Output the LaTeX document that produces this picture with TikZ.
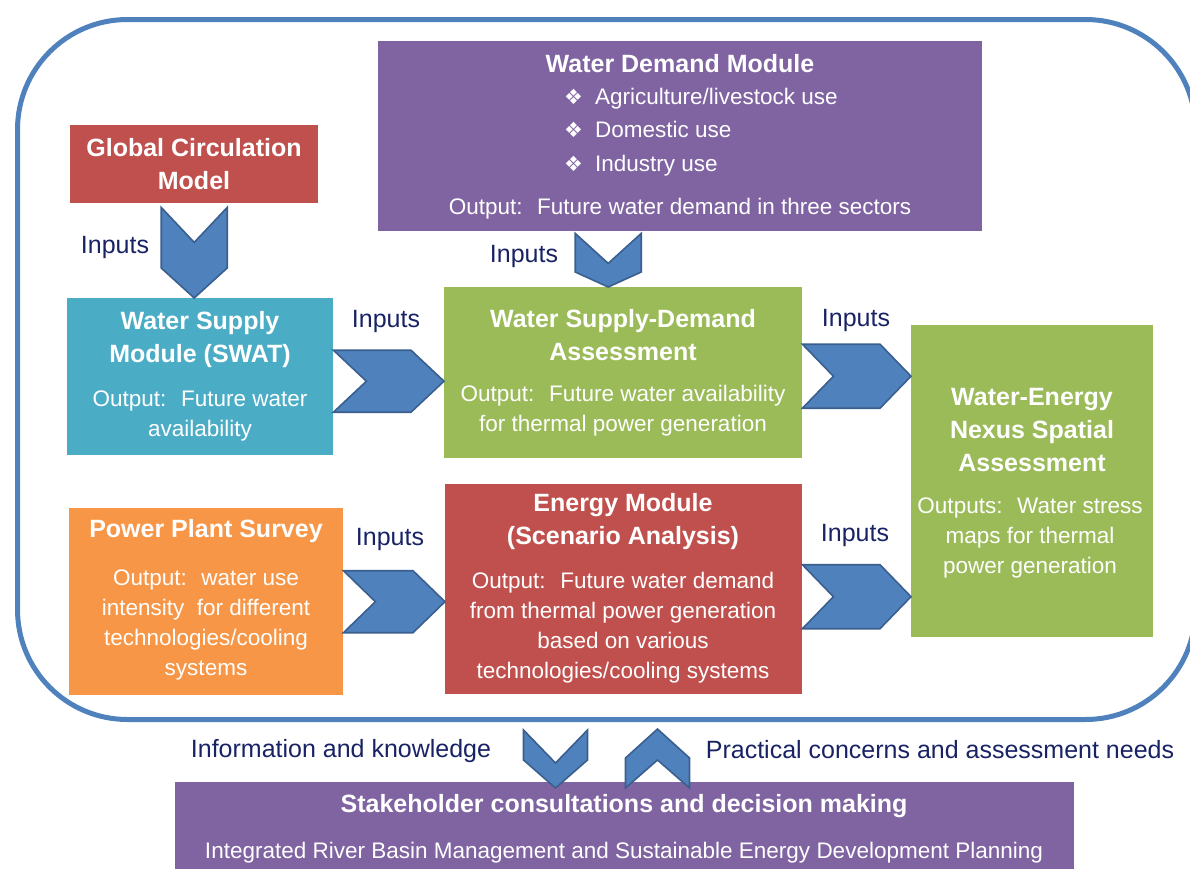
\documentclass[tikz,border=0pt]{standalone}
\usepackage{fontspec}
\setmainfont{Liberation Sans}
\newfontfamily\symfont{DejaVu Sans}
\usetikzlibrary{positioning,calc}

\definecolor{modred}{HTML}{C0504D}
\definecolor{modpurple}{HTML}{8064A2}
\definecolor{modteal}{HTML}{4BACC6}
\definecolor{modgreen}{HTML}{9BBB59}
\definecolor{modorange}{HTML}{F79646}
\definecolor{chevblue}{HTML}{4F81BD}
\definecolor{chevline}{HTML}{3A5F8E}
\definecolor{navy}{RGB}{24,34,100}

\newcommand\bul{{\symfont\fontsize{21}{21}\selectfont\char"2756}\hspace{12pt}}

\tikzset{
  modbox/.style={fill=#1, draw=none, inner sep=0pt, anchor=north west},
  title/.style={text=white, align=center, inner sep=0pt, font=\fontsize{25}{33}\selectfont\bfseries},
  body/.style={text=white, align=center, inner sep=0pt, font=\fontsize{22.5}{30}\selectfont},
  lbl/.style={text=navy, inner sep=0pt, font=\fontsize{25}{30}\selectfont},
  chev/.style={fill=chevblue, draw=chevline, line width=1.6pt, line join=miter},
  % chevron pointing right: half height, depth
  chevR/.style 2 args={chev, to path={++(0,-#1)
      -- ($(\tikztotarget)+(-#2,-#1)$) -- (\tikztotarget)
      -- ($(\tikztotarget)+(-#2,#1)$) -- ($(\tikztostart)+(0,#1)$)
      -- ($(\tikztostart)+(#2,0)$) -- cycle}},
  % chevron pointing down: half width, notch depth, head depth
  chevD/.style n args={3}{chev, to path={++(-#1,0)
      -- ($(\tikztostart)+(0,#2)$) -- ($(\tikztostart)+(#1,0)$)
      -- ($(\tikztotarget)+(#1,-#3)$) -- (\tikztotarget)
      -- ($(\tikztotarget)+(-#1,-#3)$) -- cycle}},
  % chevron pointing up
  chevU/.style n args={3}{chev, to path={++(-#1,0)
      -- ($(\tikztostart)+(0,-#2)$) -- ($(\tikztostart)+(#1,0)$)
      -- ($(\tikztotarget)+(#1,#3)$) -- (\tikztotarget)
      -- ($(\tikztotarget)+(-#1,#3)$) -- cycle}},
}

\begin{document}
\begin{tikzpicture}[x=1pt,y=-1pt]
\useasboundingbox (0,0) rectangle (1190,868);

% outer frame
\node[draw=chevblue, line width=5pt, rounded corners=110pt, inner sep=0pt,
      minimum width=1178, minimum height=700, anchor=north west] (frame) at (15,17) {};

% modules
\node[modbox=modred, minimum width=248, minimum height=78] (gcm) at (70,125) {};
\node[modbox=modpurple, minimum width=604, minimum height=190] (demand) at (378,41) {};
\node[modbox=modteal, minimum width=266, minimum height=157] (supply) at (67,298) {};
\node[modbox=modgreen, minimum width=358, minimum height=171] (sda) at (444,287) {};
\node[modbox=modgreen, minimum width=242, minimum height=312] (nexus) at (911,325) {};
\node[modbox=modorange, minimum width=274, minimum height=187] (survey) at (69,508) {};
\node[modbox=modred, minimum width=357, minimum height=210] (energy) at (445,484) {};
\node[modbox=modpurple, minimum width=899, minimum height=100] (stake) at (175,782) {};

% texts in the modules
\node[title] (gcm-t) at (194,164) {Global Circulation\\Model};
\node[title] (demand-t) at (680,64) {Water Demand Module};
\node[body, align=left, anchor=west, font=\fontsize{22.5}{33.5}\selectfont] (demand-l) at (564,132)
  {\bul Agriculture/livestock use\\\bul Domestic use\\\bul Industry use};
\node[body] (demand-b) at (680,209) {Output:~ Future water demand in three sectors};
\node[title] (supply-t) at (200,340) {Water Supply\\Module (SWAT)};
\node[body] (supply-b) at (200,416) {Output:~ Future water\\availability};
\node[title] (sda-t) at (623,335.5) {Water Supply-Demand\\Assessment};
\node[body] (sda-b) at (623,411) {Output:~ Future water availability\\for thermal power generation};
\node[title] (nexus-t) at (1032,430) {Water-Energy\\Nexus Spatial\\Assessment};
\node[body] (nexus-b) at (1030,538) {Outputs:~ Water stress\\maps for thermal\\power generation};
\node[title] (survey-t) at (206,531) {Power Plant Survey};
\node[body] (survey-b) at (206,625) {Output:~ water use\\intensity~ for different\\technologies/cooling\\systems};
\node[title] (energy-t) at (623,522) {Energy Module\\(Scenario Analysis)};
\node[body] (energy-b) at (623,628) {Output:~ Future water demand\\from thermal power generation\\based on various\\technologies/cooling systems};
\node[title] (stake-t) at (624,806) {Stakeholder consultations and decision making};
\node[body] (stake-b) at (624,853) {Integrated River Basin Management and Sustainable Energy Development Planning};

% labels
\node[lbl] (in-gcm) at (115,247) {Inputs};
\node[lbl] (in-dem) at (524,256) {Inputs};
\node[lbl] (in-sup) at (386,321) {Inputs};
\node[lbl] (in-sda) at (856,320) {Inputs};
\node[lbl] (in-srv) at (390,539) {Inputs};
\node[lbl] (in-enr) at (855,535) {Inputs};
\node[lbl] (info) at (341,751) {Information and knowledge};
\node[lbl] (needs) at (940,750) {Practical concerns and assessment needs};

% chevrons
\coordinate (dtop) at ([xshift=-72pt,yshift=-2pt]demand.south);
\coordinate (s1) at ([yshift=-4.5pt]supply.east);
\coordinate (s2) at ([yshift=-3.5pt]sda.east);
\coordinate (s3) at (survey.east);
\coordinate (s4) at ([yshift=-7.5pt]energy.east);
\coordinate (k1) at ([xshift=-51pt,yshift=-8pt]frame.south);
\coordinate (k2) at ([xshift=51pt,yshift=-7pt]frame.south);

\draw[chevD={33}{35}{30}] ([yshift=-4pt]gcm.south) to (gcm.south |- supply.north);
\draw[chevD={33}{30}{15}] (dtop) to (dtop |- sda.north);
\draw[chevR={31}{33}] (s1) to (s1 -| sda.west);
\draw[chevR={32}{31}] (s2) to (s2 -| nexus.west);
\draw[chevR={31}{32}] (s3) to (s3 -| energy.west);
\draw[chevR={32}{31}] (s4) to (s4 -| nexus.west);
\draw[chevD={32}{33}{28}] (k1) to ([yshift=-6pt]k1 |- stake.north);
\draw[chevU={32}{28}{29}] ([yshift=-6pt]k2 |- stake.north) to (k2);
\end{tikzpicture}
\end{document}
